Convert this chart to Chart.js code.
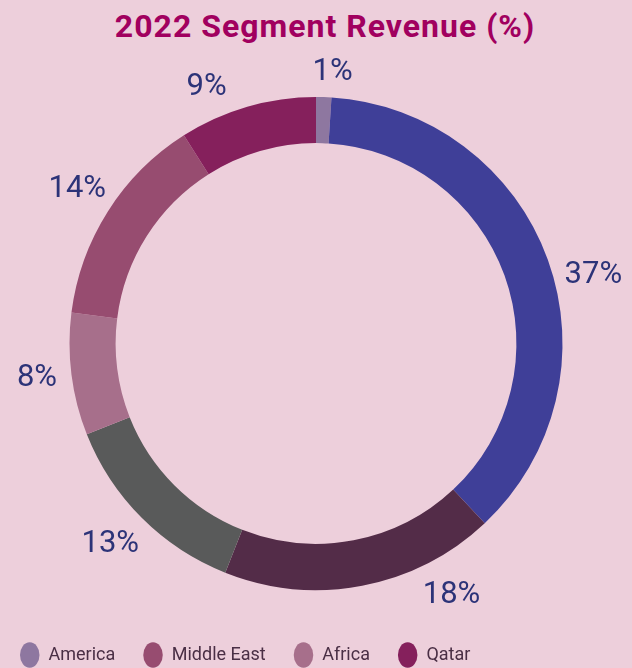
<!DOCTYPE html>
<html>
<head>
<meta charset="utf-8">
<script src="https://cdn.jsdelivr.net/npm/chart.js@4.4.1/dist/chart.umd.min.js"></script>
<style>
  html, body { margin: 0; padding: 0; background: #edcfdb; overflow: hidden; }
  .wrap { position: relative; width: 632px; height: 668px; overflow: hidden; }
  .title {
    position: absolute; top: 10px; left: 18px; width: 614px;
    text-align: center; font: bold 32px Roboto, sans-serif; line-height: 32px;
    letter-spacing: 1px; color: #a1005f;
  }
  canvas { position: absolute; top: 0; left: 0; }
</style>
</head>
<body>
<div class="wrap">
  <div class="title">2022 Segment Revenue (%)</div>
  <canvas id="seg" width="632" height="674"></canvas>
</div>
<script>
// Segments clockwise from 12 o'clock. Only four names are visible in the
// source legend, the other three are left blank.
const segments = ['America', '', '', '', 'Africa', 'Middle East', 'Qatar'];
const revenue = [1, 37, 18, 13, 8, 14, 9];
const segColors = ['#8e77a0', '#3f3f98', '#532c48', '#595a5a', '#a76f8b', '#974c70', '#85205c'];
const legendOrder = ['America', 'Middle East', 'Africa', 'Qatar'];

// label placement tweaks per slice: [degrees, px] relative to mid-angle
const labelNudge = [[1.7, -10], [5.7, 3], [-17.6, 2], [0.8, 4], [0.4, -2], [0.7, 2], [-6.8, -3]];

// percentage labels outside the ring
const pctLabels = {
  id: 'pctLabels',
  afterDatasetsDraw(chart) {
    const { ctx } = chart;
    const meta = chart.getDatasetMeta(0);
    ctx.save();
    ctx.font = '400 31px Roboto, sans-serif';
    ctx.fillStyle = '#2c3378';
    ctx.textAlign = 'center';
    ctx.textBaseline = 'middle';
    meta.data.forEach((arc, i) => {
      const n = labelNudge[i];
      const a = (arc.startAngle + arc.endAngle) / 2 + n[0] * Math.PI / 180;
      const r = 283 + n[1];
      ctx.fillText(revenue[i] + '%', arc.x + Math.cos(a) * r, arc.y + Math.sin(a) * r + 1);
    });
    ctx.restore();
  }
};

new Chart(document.getElementById('seg'), {
  type: 'doughnut',
  data: {
    labels: segments,
    datasets: [{
      data: revenue,
      backgroundColor: segColors,
      borderWidth: 0,
      radius: 246.5,
      cutout: '81.3%'
    }]
  },
  plugins: [pctLabels],
  options: {
    responsive: false,
    animation: false,
    layout: { padding: { top: 69, left: -8, right: -5, bottom: 0 } },
    plugins: {
      tooltip: { enabled: false },
      legend: {
        position: 'bottom',
        align: 'start',
        labels: {
          usePointStyle: true,
          pointStyle: 'circle',
          pointStyleWidth: 19.5,
          boxHeight: 18,
          padding: 28,
          color: '#4a2f45',
          font: { family: 'Roboto', size: 18 },
          filter: item => item.text !== '',
          sort: (a, b) => legendOrder.indexOf(a.text) - legendOrder.indexOf(b.text)
        }
      }
    }
  }
});
</script>
</body>
</html>
